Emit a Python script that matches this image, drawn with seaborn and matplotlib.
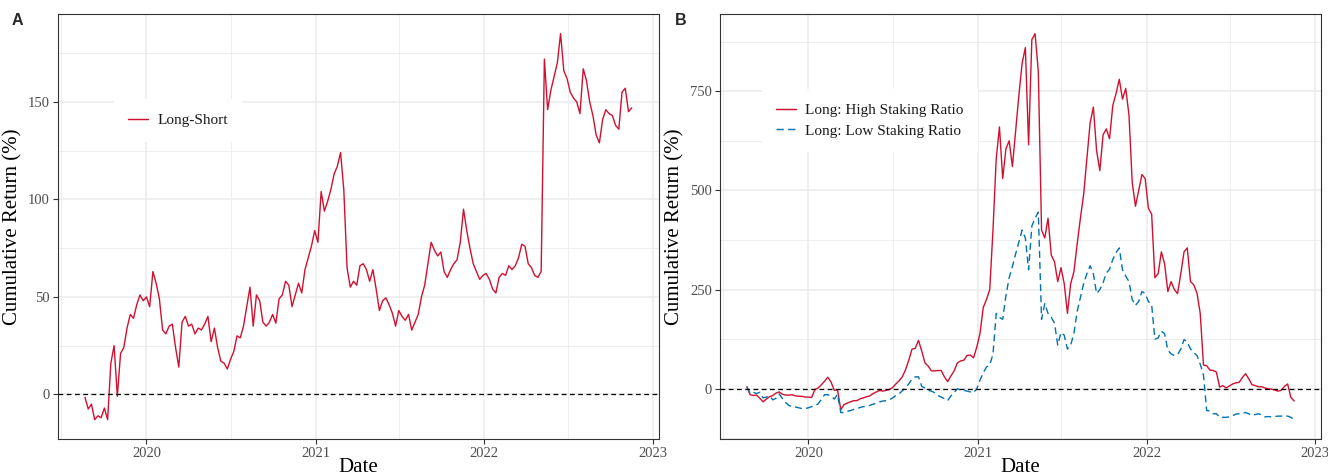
import numpy as np
import pandas as pd
import matplotlib
matplotlib.use("Agg")
import matplotlib.pyplot as plt
import matplotlib.dates as mdates
from matplotlib.ticker import MultipleLocator
import seaborn as sns

# ---- data: weekly cumulative returns (%) ----
start_date = "2019-08-21"
n_weeks = 170

long_short = [
    -1.5, -7.5, -5, -13, -11, -12, -7, -13, 16, 25,
    -1, 21, 24, 34, 41, 39, 46, 51, 48, 50,
    45, 63, 57, 49, 33, 31, 35, 36, 24, 14,
    37, 40, 35, 36, 31, 34, 33, 36, 40, 27,
    34, 24, 17, 16, 13, 18, 22, 30, 29, 35,
    45, 55, 35, 51, 48, 37, 35, 37, 41, 36.5,
    49, 51, 58, 56, 45, 51, 57, 52, 64, 70,
    76, 84, 78, 104, 94, 99, 105, 113, 117, 124,
    105, 65, 55, 58, 56, 66, 67, 64, 58, 64,
    54, 43, 48, 49.5, 46, 41.7, 35, 43, 40, 38,
    41, 33, 37, 41, 50, 56, 67, 78, 74, 71,
    73, 63, 60, 64, 67, 69, 78, 95, 84, 75,
    67, 63, 59, 61, 62, 59, 54, 52, 60, 62,
    61, 66, 64, 66, 70, 77, 76, 67, 65, 61,
    60, 63, 172, 146, 156, 163, 170, 185, 166, 162,
    155, 152, 150, 144, 167, 161, 150, 143, 133, 129,
    141, 146, 144, 143, 138, 136, 155, 157, 145, 147,
]

high_staking = [
    5, -15, -17, -16, -24, -33, -26, -20, -17, -11,
    -8, -14, -16, -16, -15, -18, -19, -19, -21, -21,
    -22, -2, 2, 10, 19, 29, 17, -4, -3, -53,
    -40, -36, -33, -30, -30, -25, -23, -20, -18, -12,
    -8, -4, -6, -4, -2, 3, 12, 20, 30, 48,
    72, 100, 102, 122, 95, 65, 57, 45, 45, 46,
    46, 30, 18, 32, 45, 65, 70, 72, 84, 85,
    78, 105, 140, 205, 225, 250, 400, 580, 660, 530,
    605, 625, 560, 650, 740, 820, 860, 615, 880, 895,
    800, 400, 380, 430, 337, 320, 270, 305, 265, 190,
    265, 295, 365, 430, 490, 580, 670, 710, 600, 550,
    640, 655, 630, 714, 744, 780, 730, 757, 690, 520,
    460, 500, 540, 530, 455, 440, 280, 290, 345, 315,
    245, 270, 250, 240, 290, 345, 355, 270, 262, 241,
    190, 60, 58, 47, 46, 42, 4, 8, 2, 7,
    12, 15, 16, 28, 38, 25, 10, 8, 5, 5,
    2, 0, -1, -3, -6, -4, 6, 12, -22, -31,
]

low_staking = [
    5, -12, -9, -12, -9, -23, -21, -18, -28, -24,
    -13, -25, -35, -42, -45, -46, -48, -50, -50, -48,
    -45, -43, -38, -27, -15, -15, -18, -26, -14, -60,
    -60, -57, -55, -52, -50, -47, -45, -44, -42, -39,
    -36, -33, -31, -30, -28, -23, -17, -13, -5, 3,
    12, 25, 30, 30, 6, 2, -4, -6, -10, -17,
    -21, -25, -30, -18, -10, 0, -3, -4, -6, -8,
    -10, 0, 22, 40, 55, 60, 87, 190, 180, 175,
    235, 280, 308, 340, 370, 400, 380, 300, 410, 430,
    445, 175, 215, 190, 180, 165, 110, 142, 135, 100,
    110, 140, 195, 230, 265, 290, 310, 290, 240, 250,
    267, 292, 301, 326, 343, 355, 300, 284, 270, 225,
    210, 220, 245, 240, 220, 212, 125, 128, 145, 139,
    97, 88, 84, 86, 100, 124, 118, 100, 91, 84,
    62, 35, -55, -56, -63, -63, -72, -72, -72, -71,
    -68, -64, -63, -62, -60, -63, -67, -65, -63, -66,
    -71, -70, -71, -70, -69, -69, -68, -69, -72, -78,
]

label_ls = "Long-Short"
label_high = "Long: High Staking Ratio"
label_low = "Long: Low Staking Ratio"

RED = "#D1102F"
BLUE = "#0072B2"

dates = pd.date_range(start_date, periods=n_weeks, freq="7D")
df_a = pd.DataFrame({"Date": dates, "Return": long_short, "Series": label_ls})
df_b = pd.concat([
    pd.DataFrame({"Date": dates, "Return": high_staking, "Series": label_high}),
    pd.DataFrame({"Date": dates, "Return": low_staking, "Series": label_low}),
], ignore_index=True)

# ---- style ----
sns.set_style("white")
plt.rcParams["font.family"] = ["Liberation Serif", "DejaVu Serif"]
plt.rcParams["axes.unicode_minus"] = False

fig = plt.figure(figsize=(13.28, 4.75), dpi=100)
ax_a = fig.add_axes([0.0434, 0.0758, 0.4529, 0.8939])
ax_b = fig.add_axes([0.5418, 0.0758, 0.4533, 0.8939])

sns.lineplot(data=df_a, x="Date", y="Return", hue="Series",
             palette={label_ls: RED}, linewidth=1.0, ax=ax_a)
sns.lineplot(data=df_b, x="Date", y="Return", hue="Series", style="Series",
             palette={label_high: RED, label_low: BLUE},
             dashes={label_high: "", label_low: (5, 3)},
             linewidth=1.0, ax=ax_b)


def style_panel(ax, major_step, minor_step, legend_center):
    # expanded limits (5% of the data range on each side)
    xs = mdates.date2num(dates)
    xpad = (xs.max() - xs.min()) * 0.05
    ax.set_xlim(xs.min() - xpad, xs.max() + xpad)
    ys = np.concatenate([ln.get_ydata() for ln in ax.get_lines()])
    ypad = (ys.max() - ys.min()) * 0.05
    ax.set_ylim(ys.min() - ypad, ys.max() + ypad)

    ax.axhline(0, color="black", lw=0.9, ls=(0, (3.8, 2.8)), zorder=4)

    ax.xaxis.set_major_locator(mdates.YearLocator())
    ax.xaxis.set_major_formatter(mdates.DateFormatter("%Y"))
    ax.xaxis.set_minor_locator(mdates.MonthLocator(bymonth=7))
    ax.yaxis.set_major_locator(MultipleLocator(major_step))
    ax.yaxis.set_minor_locator(MultipleLocator(minor_step))

    ax.grid(which="major", color="#EBEBEB", lw=1.1)
    ax.grid(which="minor", color="#EBEBEB", lw=0.6)
    ax.set_axisbelow(True)

    for sp in ax.spines.values():
        sp.set_visible(True)
        sp.set_color("#333333")
        sp.set_linewidth(0.8)

    ax.tick_params(which="major", direction="out", length=3.5, width=0.8,
                   color="#333333", labelcolor="#4D4D4D", labelsize=10.5, pad=2,
                   bottom=True, left=True)
    ax.tick_params(which="minor", length=0)

    ax.set_xlabel("Date", fontsize=15, color="black", labelpad=-1)
    ax.set_ylabel("Cumulative Return (%)", fontsize=15, color="black", labelpad=4)

    old = ax.get_legend()
    handles = old.legend_handles
    labels = [t.get_text() for t in old.texts]
    old.remove()
    for h in handles:
        h.set_linewidth(1.05)
    leg = ax.legend(handles, labels, loc="center", bbox_to_anchor=legend_center,
                    frameon=True, facecolor="white", edgecolor="none",
                    framealpha=1.0, fancybox=False, fontsize=11,
                    handlelength=1.3, handletextpad=0.6, labelspacing=0.45,
                    borderpad=0.95)
    for t in leg.get_texts():
        t.set_color("#1A1A1A")


style_panel(ax_a, 50, 25, (0.20, 0.75))
style_panel(ax_b, 250, 125, (0.25, 0.75))

fig.text(12 / 1328, 1 - 13 / 475, "A", fontsize=11.5, fontweight="bold",
         family="Liberation Sans", ha="left", va="top")
fig.text(675 / 1328, 1 - 13 / 475, "B", fontsize=11.5, fontweight="bold",
         family="Liberation Sans", ha="left", va="top")

fig.savefig("out.png", dpi=100)
